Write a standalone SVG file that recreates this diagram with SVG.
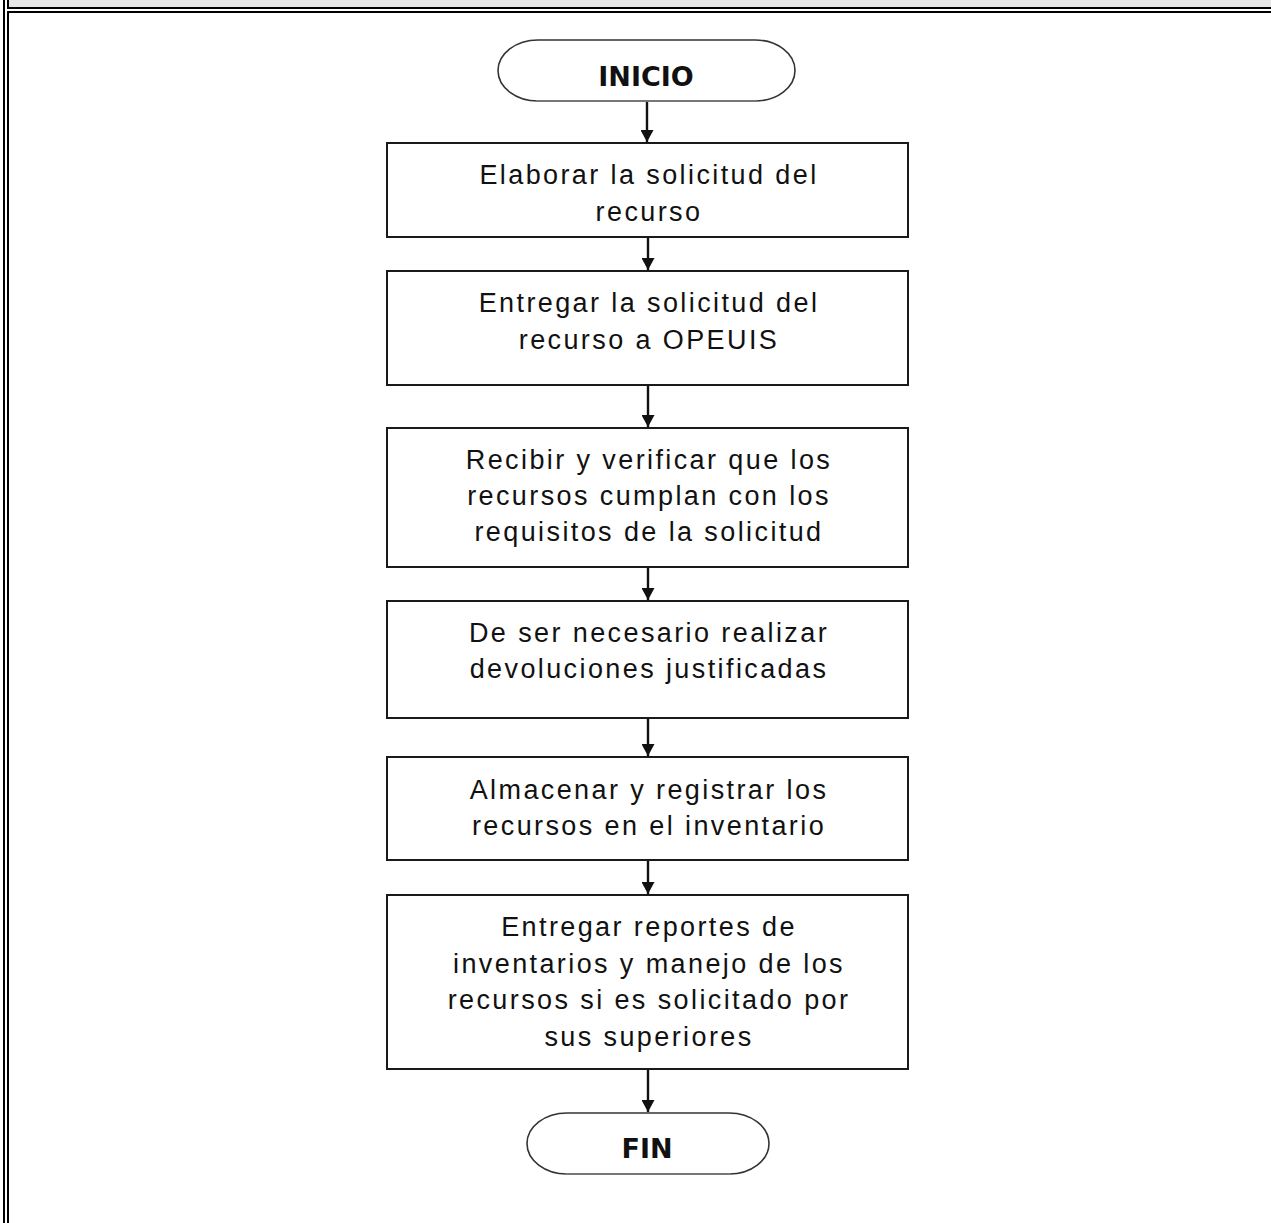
<svg xmlns="http://www.w3.org/2000/svg" width="1271" height="1223" viewBox="0 0 1271 1223">
  <style>
    .frame { stroke: #000; stroke-width: 2; fill: none; }
    .box { fill: #fff; stroke: #1a1a1a; stroke-width: 2; }
    .term { fill: #fff; stroke: #333; stroke-width: 1.6; }
    .termbase { stroke: #777; stroke-width: 2; }
    .lbl { font-family: "Liberation Sans", Arial, sans-serif; font-size: 27px; letter-spacing: 2.4px; fill: #111; text-anchor: middle; }
    .tlbl { font-family: "DejaVu Sans", Verdana, sans-serif; font-weight: bold; font-size: 27px; fill: #111; text-anchor: middle; }
  </style>
  <defs>
    <marker id="arrowDown" markerWidth="13" markerHeight="12" refX="6.5" refY="12" orient="0" markerUnits="userSpaceOnUse" viewBox="0 0 13 12">
      <path d="M0,0 L13,0 L6.5,12 Z" fill="#111"/>
    </marker>
  </defs>

  <rect width="1271" height="1223" fill="#fff"/>

  <!-- table frame -->
  <g id="frame">
    <rect x="9" y="0" width="1262" height="7" fill="#e6e6e6"/>
    <line class="frame" x1="4" y1="0" x2="4" y2="1223"/>
    <line class="frame" x1="8" y1="0" x2="8" y2="9"/>
    <line class="frame" x1="8" y1="11" x2="8" y2="1223"/>
    <line class="frame" x1="7" y1="8" x2="1271" y2="8"/>
    <line class="frame" x1="7" y1="12" x2="1271" y2="12"/>
  </g>

  <!-- connectors -->
  <g id="connectors" stroke="#111" stroke-width="2.4" fill="none">
    <line x1="647" y1="101" x2="647" y2="142" marker-end="url(#arrowDown)"/>
    <line x1="648" y1="237" x2="648" y2="270" marker-end="url(#arrowDown)"/>
    <line x1="648" y1="385" x2="648" y2="427" marker-end="url(#arrowDown)"/>
    <line x1="648" y1="567" x2="648" y2="600" marker-end="url(#arrowDown)"/>
    <line x1="648" y1="718" x2="648" y2="756" marker-end="url(#arrowDown)"/>
    <line x1="648" y1="860" x2="648" y2="894" marker-end="url(#arrowDown)"/>
    <line x1="648" y1="1069" x2="648" y2="1112" marker-end="url(#arrowDown)"/>
  </g>

  <g id="inicio">
    <rect class="term" x="498" y="40" width="297" height="61" rx="40" ry="30.5"/>
    <line class="termbase" x1="536" y1="101" x2="757" y2="101"/>
    <text class="tlbl" x="646" y="86">INICIO</text>
  </g>

  <g id="paso1">
    <rect class="box" x="387" y="143" width="521" height="94"/>
    <text class="lbl" x="649" y="184">Elaborar la solicitud del</text>
    <text class="lbl" x="649" y="221">recurso</text>
  </g>

  <g id="paso2">
    <rect class="box" x="387" y="271" width="521" height="114"/>
    <text class="lbl" x="649" y="312">Entregar la solicitud del</text>
    <text class="lbl" x="649" y="349">recurso a OPEUIS</text>
  </g>

  <g id="paso3">
    <rect class="box" x="387" y="428" width="521" height="139"/>
    <text class="lbl" x="649" y="469">Recibir y verificar que los</text>
    <text class="lbl" x="649" y="505">recursos cumplan con los</text>
    <text class="lbl" x="649" y="541">requisitos de la solicitud</text>
  </g>

  <g id="paso4">
    <rect class="box" x="387" y="601" width="521" height="117"/>
    <text class="lbl" x="649" y="642">De ser necesario realizar</text>
    <text class="lbl" x="649" y="678">devoluciones justificadas</text>
  </g>

  <g id="paso5">
    <rect class="box" x="387" y="757" width="521" height="103"/>
    <text class="lbl" x="649" y="799">Almacenar y registrar los</text>
    <text class="lbl" x="649" y="835">recursos en el inventario</text>
  </g>

  <g id="paso6">
    <rect class="box" x="387" y="895" width="521" height="174"/>
    <text class="lbl" x="649" y="936">Entregar reportes de</text>
    <text class="lbl" x="649" y="973">inventarios y manejo de los</text>
    <text class="lbl" x="649" y="1009">recursos si es solicitado por</text>
    <text class="lbl" x="649" y="1046">sus superiores</text>
  </g>

  <g id="fin">
    <rect class="term" x="527" y="1113" width="242" height="61" rx="40" ry="30.5"/>
    <line class="termbase" x1="565" y1="1174" x2="731" y2="1174"/>
    <text class="tlbl" x="647" y="1158">FIN</text>
  </g>
</svg>
